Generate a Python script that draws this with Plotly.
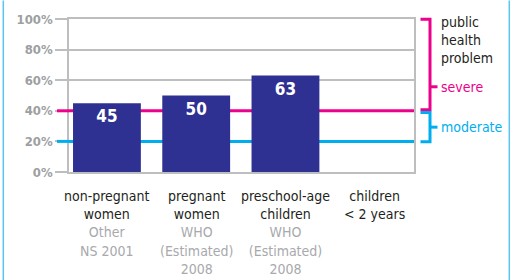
import plotly.graph_objects as go

categories = ["non-pregnant women", "pregnant women", "preschool-age children", "children < 2 years"]
cat_lines = [["non-pregnant", "women"], ["pregnant", "women"], ["preschool-age", "children"], ["children", "< 2 years"]]
source_lines = [["Other", "NS 2001"], ["WHO", "(Estimated)", "2008"], ["WHO", "(Estimated)", "2008"], []]
values = [45, 50, 63, None]
severe_threshold = 40
moderate_threshold = 20
y_ticks = [0, 20, 40, 60, 80, 100]

FONT = "Liberation Sans Narrow, DejaVu Sans Condensed, Arial Narrow, sans-serif"
BAR = "#2e3192"
MAG = "#ec008c"
CYAN = "#00aeef"
GRID = "#bcbec0"
GRAYTXT = "#a7a9ac"
BLACK = "#231f20"

L, R, T, B = 69, 101, 14, 108
W, H = 515, 280
pw = W - L - R
ph = H - T - B
XR = [-0.425, 3.44]

def px2paper_x(px):
    return (px - L) / pw

def px2paper_y(py):
    return (H - B - py) / ph

xs = list(range(len(categories)))

fig = go.Figure()
fig.add_trace(go.Bar(
    x=xs[:3], y=values[:3], width=0.76,
    marker=dict(color=BAR, line=dict(width=0)),
    text=[str(v) for v in values[:3]], textposition="inside", insidetextanchor="end",
    textfont=dict(family=FONT, size=17, color="white", weight="bold"),
    hoverinfo="skip",
))

shapes = []
# threshold lines: in-plot part below bars, left stub outside plot
for yv, col in [(severe_threshold, MAG), (moderate_threshold, CYAN)]:
    shapes.append(dict(type="line", xref="x", yref="y", x0=XR[0], x1=XR[1],
                       y0=yv, y1=yv, line=dict(color=col, width=3), layer="between"))
    shapes.append(dict(type="line", xref="paper", yref="y", x0=px2paper_x(57), x1=0,
                       y0=yv, y1=yv, line=dict(color=col, width=3)))

def bracket(ytop, ybot, ymid, col):
    xa, xb, xc = px2paper_x(420.5), px2paper_x(430), px2paper_x(437.5)
    out = []
    out.append(dict(type="path", xref="paper", yref="paper",
                    path=f"M {xa} {px2paper_y(ytop)} L {xb} {px2paper_y(ytop)} L {xb} {px2paper_y(ybot)} L {xa} {px2paper_y(ybot)}",
                    line=dict(color=col, width=3)))
    out.append(dict(type="line", xref="paper", yref="paper", x0=xb, x1=xc,
                    y0=px2paper_y(ymid), y1=px2paper_y(ymid), line=dict(color=col, width=3)))
    return out

shapes += bracket(14.3, 107.7, 84, MAG)
shapes += bracket(110.5, 140.7, 125.7, CYAN)

# frame
for px in (3.3, 509.3):
    shapes.append(dict(type="line", xref="paper", yref="paper", x0=px2paper_x(px), x1=px2paper_x(px),
                       y0=px2paper_y(-5), y1=px2paper_y(285), line=dict(color="#5bc4ef", width=1.5)))

annotations = []
for i in xs:
    lines = [f"<span style='color:{BLACK}'>{t}</span>" for t in cat_lines[i]] + \
            [f"<span style='color:{GRAYTXT}'>{t}</span>" for t in source_lines[i]]
    annotations.append(dict(x=i, y=0, xref="x", yref="paper", yanchor="top", xanchor="center",
                            yshift=-14, text="<br>".join(lines), showarrow=False,
                            font=dict(family=FONT, size=14), align="center"))

annotations.append(dict(x=px2paper_x(439), y=px2paper_y(7), xref="paper", yref="paper",
                        xanchor="left", yanchor="top", text="public<br>health<br>problem",
                        showarrow=False, font=dict(family=FONT, size=14, color=BLACK), align="left"))
annotations.append(dict(x=px2paper_x(439), y=px2paper_y(84), xref="paper", yref="paper",
                        xanchor="left", yanchor="middle", text="severe",
                        showarrow=False, font=dict(family=FONT, size=14, color=MAG)))
annotations.append(dict(x=px2paper_x(439), y=px2paper_y(125.7), xref="paper", yref="paper",
                        xanchor="left", yanchor="middle", text="moderate",
                        showarrow=False, font=dict(family=FONT, size=14, color=CYAN)))

fig.update_layout(
    width=W, height=H, margin=dict(l=L, r=R, t=T, b=B, pad=0),
    paper_bgcolor="white", plot_bgcolor="white", showlegend=False,
    shapes=shapes, annotations=annotations,
    xaxis=dict(range=XR, showticklabels=False, showgrid=False, zeroline=False,
               showline=True, linecolor=GRID, linewidth=1.5, mirror=True, ticks="", fixedrange=True),
    yaxis=dict(range=[0, 100], tickvals=y_ticks, ticktext=[f"{v}%" for v in y_ticks],
               showgrid=True, gridcolor=GRID, gridwidth=1.5, zeroline=False,
               showline=True, linecolor=GRID, linewidth=1.5, mirror=True,
               ticks="outside", ticklen=12, tickcolor=GRID, tickwidth=1.5,
               tickfont=dict(family=FONT, size=13, color="#9d9fa2", weight="bold"), fixedrange=True),
)

fig.write_html("out.html", config={"displayModeBar": False},
               post_script="document.body.style.margin='0';document.body.style.overflow='hidden';")
